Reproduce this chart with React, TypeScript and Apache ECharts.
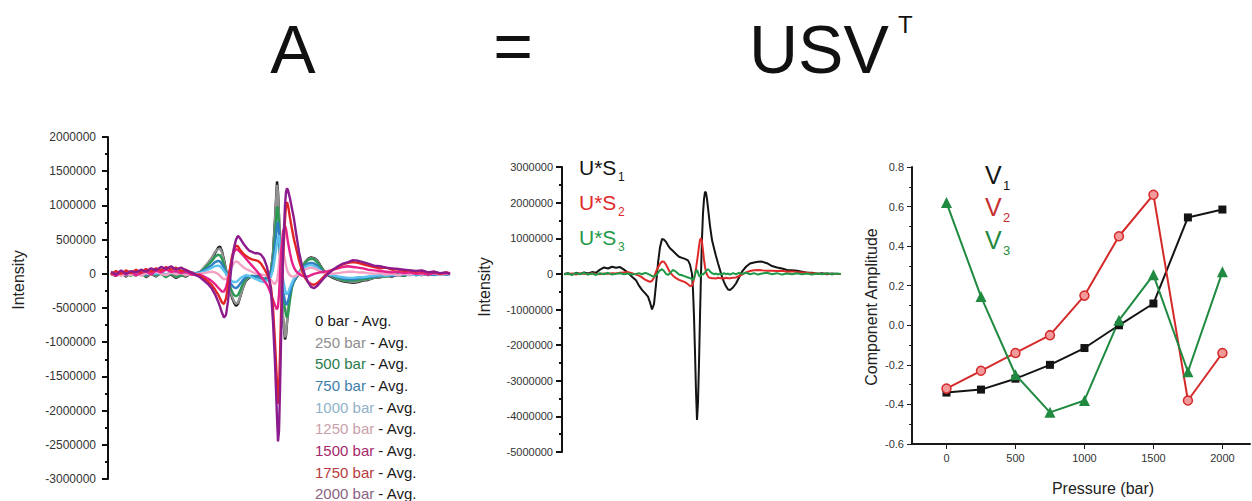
import React, { useEffect, useRef } from "react";
import * as echarts from "echarts";

// ---------- Left panel: spectra A (values in thousands) ----------
const X_LEFT = [
  3, 8, 13, 18, 23, 28, 33, 38, 43, 48, 53, 58, 63, 68, 73, 78, 83, 88,
  92, 96, 100, 104, 107, 110, 112, 114, 116, 118, 120, 122, 124, 126, 128, 130, 132, 135, 138, 141, 144, 147, 150, 153, 156, 159,
  161, 163, 165, 167, 169, 170, 171, 172, 173, 175, 177, 178, 179, 180, 182, 184, 186, 188, 191, 194, 197, 200, 203, 206, 209, 212, 216,
  220, 225, 230, 235, 240, 245, 250, 255, 260, 266, 272, 278, 284, 290, 296, 302, 308, 314, 320, 326, 332, 338, 342,
];
const BAR0 = [
  0, -30, 20, -40, 10, -20, 30, -50, 0, -40, 20, -30, -10, -60, -20, -40, 10, -10,
  20, 80, 150, 230, 300, 380, 400, 330, 200, 60, -100, -250, -350, -420, -470, -440, -350, -200, -100, -60, -30, -50, -20, -60, -80, -90,
  -60, 50, 300, 800, 1350, 1200, 850, 350, -100, -650, -960, -900, -720, -520, -260, -150, -110, -60, 0, 80, 170, 220, 240, 230, 200, 130, 40,
  -20, -60, -90, -110, -120, -130, -120, -100, -90, -60, -50, -30, -40, -10, -30, 0, -20, 10, -20, 0, -10, 10, 0,
];
const BAR250 = [
  10, -20, 30, -30, 0, -30, 20, -40, 10, -30, 10, -40, 0, -50, -10, -30, 20, 0,
  30, 90, 160, 240, 320, 360, 370, 310, 180, 50, -90, -230, -330, -400, -440, -420, -340, -190, -90, -50, -40, -30, -50, -70, -80, -80,
  -50, 40, 280, 760, 1300, 1180, 820, 330, -90, -620, -930, -880, -700, -500, -250, -140, -100, -50, 10, 90, 170, 210, 230, 220, 190, 120, 30,
  -10, -50, -80, -100, -110, -120, -110, -90, -80, -60, -40, -40, -20, -30, -10, -20, 0, -20, 10, -10, 0, -10, 0,
];
const BAR500 = [
  -10, 20, -20, 10, -30, 20, -10, -30, 20, -20, 0, -50, 10, -40, -30, -20, 0, 10,
  20, 70, 130, 190, 250, 280, 270, 220, 130, 30, -80, -180, -260, -310, -330, -310, -250, -140, -70, -40, -30, -50, -40, -60, -70, -60,
  -40, 30, 220, 580, 980, 960, 700, 300, -50, -300, -520, -600, -640, -600, -380, -200, -110, -40, 20, 90, 160, 200, 220, 210, 170, 110, 30,
  0, -40, -70, -90, -100, -100, -90, -80, -70, -50, -30, -40, -20, -10, -30, 0, -10, -20, 0, -10, 10, -10, 0,
];
const BAR750 = [
  20, -10, 30, -20, 20, -10, 40, -20, 30, -10, 20, -20, 30, -10, 10, 0, 20, 10,
  20, 50, 90, 130, 170, 190, 180, 140, 80, 20, -50, -120, -170, -200, -210, -190, -150, -90, -50, -30, -40, -30, -50, -60, -80, -60,
  -70, 0, 150, 400, 700, 760, 620, 300, 0, -250, -400, -450, -440, -400, -280, -170, -100, -50, 10, 70, 120, 150, 160, 150, 120, 70, 20,
  0, -30, -50, -70, -80, -80, -70, -60, -50, -40, -30, -20, -30, -10, -20, 0, -20, -10, 0, -20, 0, -10, 0,
];
const BAR1000 = [
  0, 20, -10, 30, 0, 20, -20, 10, 30, 0, 20, -10, 10, 20, 0, 30, 10, 0,
  10, 30, 60, 90, 110, 120, 110, 80, 40, 0, -40, -80, -110, -120, -120, -100, -70, -40, -20, -30, -50, -70, -90, -110, -120, -100,
  -90, -40, 60, 250, 450, 540, 560, 420, 200, -80, -230, -290, -300, -280, -200, -130, -70, -30, 20, 60, 100, 120, 130, 110, 90, 50, 10,
  -10, -20, -40, -50, -60, -60, -50, -50, -40, -30, -20, -30, -10, -20, 0, -20, -10, 0, -10, 0, -20, 0, -10,
];
const BAR1250 = [
  -20, 10, -30, 0, -20, 20, -30, 10, -10, 30, 0, -20, 20, -10, 10, -20, 0, -10,
  0, 10, 20, 30, 20, 0, -30, -60, -80, -70, -30, 40, 110, 160, 180, 170, 140, 100, 70, 50, 30, 10, 0, -10, -20, -30,
  -50, -90, -130, -150, -100, 0, 150, 300, 380, 330, 200, 120, 60, 20, -20, -40, -40, -30, 0, 30, 60, 80, 90, 80, 60, 40, 10,
  0, 0, 10, 20, 30, 30, 20, 20, 10, 0, 10, -10, 0, -20, 0, -10, 10, -10, 0, 10, -10, 0, 0,
];
const BAR1500 = [
  10, -30, 20, -10, 30, -20, 10, 40, -10, 50, 20, 60, 30, 40, 10, 30, -10, -20,
  -10, -40, -70, -110, -150, -200, -230, -260, -260, -200, -80, 80, 220, 320, 360, 350, 320, 270, 220, 170, 120, 70, 20, -40, -100, -160,
  -220, -300, -380, -460, -520, -480, -300, 0, 300, 620, 700, 660, 560, 460, 300, 170, 90, 40, 0, -30, -40, -40, -20, 0, 10, 20, 30,
  40, 60, 80, 100, 110, 100, 90, 80, 60, 50, 40, 30, 20, 30, 10, 20, 0, 10, -10, 10, 0, 10, 0,
];
const BAR1750 = [
  -10, 40, 0, 50, 10, 60, 20, 70, 30, 80, 50, 100, 60, 90, 40, 60, 20, -10,
  -30, -70, -110, -170, -230, -300, -360, -420, -440, -360, -180, 60, 250, 360, 410, 400, 350, 300, 260, 230, 210, 200, 190, 150, 80, 0,
  -80, -200, -500, -1000, -1600, -1900, -1700, -1200, -600, 200, 800, 1000, 1050, 1000, 820, 650, 500, 380, 200, 50, -60, -120, -150, -160, -140, -100, -40,
  10, 60, 100, 140, 160, 170, 160, 140, 120, 100, 80, 90, 60, 70, 40, 50, 30, 40, 20, 30, 0, 20, 10,
];
const BAR2000 = [
  30, -10, 50, 0, 40, 20, 60, 30, 80, 50, 100, 70, 110, 60, 90, 50, 20, -20,
  -50, -100, -150, -220, -300, -400, -480, -570, -640, -600, -400, -100, 180, 380, 500, 555, 520, 450, 390, 340, 320, 300, 300, 280, 220, 100,
  -50, -250, -700, -1300, -2100, -2450, -2300, -1700, -1000, 300, 1000, 1200, 1250, 1220, 1100, 950, 800, 600, 320, 120, -20, -120, -190, -210, -180, -130, -60,
  0, 60, 110, 150, 170, 200, 190, 170, 150, 120, 110, 90, 80, 70, 60, 50, 40, 50, 20, 30, 10, 20, 0,
];
const LEFT_SERIES = [
  { name: "0 bar", data: BAR0, line: "#151515", text: "#1a1a1a" },
  { name: "250 bar", data: BAR250, line: "#929292", text: "#8e8e8e" },
  { name: "500 bar", data: BAR500, line: "#2a9a52", text: "#2a7d4c" },
  { name: "750 bar", data: BAR750, line: "#2f80c2", text: "#3d7eaa" },
  { name: "1000 bar", data: BAR1000, line: "#5ec2ee", text: "#8fb2c8" },
  { name: "1250 bar", data: BAR1250, line: "#f2a2c4", text: "#c9a0aa" },
  { name: "1500 bar", data: BAR1500, line: "#e6218a", text: "#a4286c" },
  { name: "1750 bar", data: BAR1750, line: "#e22424", text: "#b83b3d" },
  { name: "2000 bar", data: BAR2000, line: "#8c1c8e", text: "#8a6282" },
];

// ---------- Middle panel: U*S components (values in thousands) ----------
const X_MID = [
  2, 6, 10, 14, 18, 22, 26, 30, 34, 38, 42, 46, 50, 54, 58, 62, 66, 70, 74,
  77, 80, 83, 86, 88, 90, 92, 94, 96, 98, 100, 102, 104, 106, 108,
  111, 114, 117, 120, 123, 126, 128, 130,
  131, 132, 133, 134, 135, 136, 137, 138, 139, 140, 141, 142, 143, 144, 145, 146, 147, 148,
  150, 152, 154, 156, 158, 160, 162, 164, 166, 168,
  171, 174, 177, 180,
  184, 188, 192, 196, 200,
  205, 210, 215, 220, 225, 230, 235, 240, 245, 250, 255, 260, 265, 270, 275,
  279,
];
const US1 = [
  0, 20, -20, 30, 0, 40, 10, 50, 30, 120, 180, 150, 200, 170, 190, 120, 30, -80, -180,
  -330, -450, -540, -640, -800, -1000, -850, -300, 300, 750, 980, 960, 900, 800, 720,
  640, 560, 480, 450, 420, 380, 260, 0,
  -450, -1200, -2200, -3300, -4100, -3600, -2500, -1200, 0, 1000, 1700, 2100, 2300, 2280, 2100, 1850, 1600, 1350,
  950, 720, 500, 300, 110, -80, -230, -350, -440, -450,
  -380, -270, -100, 60,
  200, 290, 320, 340, 345,
  300, 220, 180, 150, 110, 100, 90, 60, 30, 30, 0, 20, -10, 10, 0,
  0,
];
const US2 = [
  0, -10, 10, -20, 10, 0, -10, 20, 0, -10, 10, 0, 20, 10, 30, 40, 50, 20, -20,
  -50, -100, -160, -200, -220, -200, -100, 60, 180, 280, 350, 340, 260, 150, 40,
  -50, -120, -170, -200, -230, -290, -340, -330,
  -250, -150, 0, 150, 350, 550, 780, 950, 1000, 900, 650, 400, 200, 60, -20, -70, -100, -110,
  -120, -120, -130, -110, -120, -120, -130, -110, -120, -120,
  -110, -100, -60, -20,
  40, 80, 100, 110, 100,
  90, 90, 80, 90, 60, 70, 50, 40, 30, 20, 10, 0, 10, -10, 0,
  0,
];
const US3 = [
  -20, 10, -30, 20, -10, 30, -20, 10, -30, 20, -10, 30, -20, 0, 20, -10, 10, -20, 0,
  20, -10, 30, 0, -30, -60, -80, -40, 30, 100, 130, 80, 0, -30, 20,
  110, 60, -20, -40, -70, -100, -120, -150,
  -170, -120, -20, 80, 110, 40, -50, -80, -40, 0, -20, 10, 40, 80, 110, 130, 110, 70,
  20, -10, 10, -20, 10, -20, 20, -10, 10, -20,
  20, -10, 30, 0,
  30, -10, 20, -20, 10,
  30, -10, 20, -20, 10, -10, 20, -10, 10, -20, 10, -10, 20, -10, 10,
  0,
];
const MID_SERIES = [
  { sub: "1", data: US1, color: "#141414" },
  { sub: "2", data: US2, color: "#e02a2a" },
  { sub: "3", data: US3, color: "#1f9a48" },
];

// ---------- Right panel: V components ----------
const PRESSURES = [0, 250, 500, 750, 1000, 1250, 1500, 1750, 2000];
const V1 = [-0.34, -0.325, -0.27, -0.2, -0.115, 0.0, 0.11, 0.545, 0.585];
const V2 = [-0.32, -0.23, -0.14, -0.05, 0.15, 0.45, 0.66, -0.38, -0.14];
const V3 = [0.62, 0.145, -0.25, -0.44, -0.38, 0.025, 0.255, -0.235, 0.27];
const X_MAJOR = [0, 500, 1000, 1500, 2000];

const FONT = '"Liberation Sans", Arial, Helvetica, sans-serif';

export default function App() {
  const ref = useRef<HTMLDivElement>(null);
  useEffect(() => {
    if (!ref.current) return;
    const chart = echarts.init(ref.current, undefined, { renderer: "svg" });

    const labelStyle = (size: number, margin: number) => ({
      color: "#333",
      fontSize: size,
      fontFamily: FONT,
      margin,
      formatter: (v: number) => String(v),
    });

    const leftSeries = LEFT_SERIES.map((s) => ({
      type: "line", xAxisIndex: 0, yAxisIndex: 0, showSymbol: false, symbol: "none",
      lineStyle: { color: s.line, width: 2.4 },
      data: X_LEFT.map((x, i) => [x, s.data[i] * 1000]),
    }));
    const midSeries = MID_SERIES.map((s) => ({
      type: "line", xAxisIndex: 1, yAxisIndex: 1, showSymbol: false, symbol: "none",
      lineStyle: { color: s.color, width: 2 },
      data: X_MID.map((x, i) => [x, s.data[i] * 1000]),
    }));
    const vSeries = [
      { data: V1, color: "#141414", symbol: "rect", symbolSize: 8, itemStyle: { color: "#141414" } },
      {
        data: V2, color: "#d42a2a", symbol: "circle", symbolSize: 9,
        itemStyle: { color: "#f29a9a", borderColor: "#d42a2a", borderWidth: 1.5 },
      },
      { data: V3, color: "#1f8a40", symbol: "triangle", symbolSize: 11, itemStyle: { color: "#1f8a40" } },
    ].map((s) => ({
      type: "line", xAxisIndex: 2, yAxisIndex: 2,
      symbol: s.symbol, symbolSize: s.symbolSize, showSymbol: true,
      lineStyle: { color: s.color, width: 2 },
      itemStyle: s.itemStyle,
      data: PRESSURES.map((p, i) => [p, s.data[i]]),
    }));

    const text = (t: string, x: number, y: number, size: number, fill: string, align = "left", rotation = 0) => ({
      type: "text", x, y, rotation, z: 10,
      style: { text: t, fontSize: size, fontFamily: FONT, fill, align, verticalAlign: "middle" },
    });

    const graphics: any[] = [
      text("A", 293, 49, 68, "#111111", "center"),
      text("=", 513, 46, 68, "#111111", "center"),
      text("USV", 749, 49, 68, "#111111", "left"),
      text("T", 898, 24, 24, "#111111", "left"),
      text("Intensity", 18, 280, 16, "#222222", "center", Math.PI / 2),
      text("Intensity", 484, 287, 16, "#222222", "center", Math.PI / 2),
      text("Component Amplitude", 871, 307, 16, "#222222", "center", Math.PI / 2),
      text("Pressure (bar)", 1103, 488, 16, "#222222", "center"),
    ];
    const legendY = [320, 342, 363, 385, 407, 428, 450, 472, 493];
    LEFT_SERIES.forEach((s, i) => {
      graphics.push({
        type: "text", x: 315, y: legendY[i], z: 10,
        style: {
          text: `{a|${s.name}}{b| - Avg.}`,
          verticalAlign: "middle",
          rich: {
            a: { fill: s.text, fontSize: 15, fontFamily: FONT },
            b: { fill: "#1a1a1a", fontSize: 15, fontFamily: FONT },
          },
        },
      });
    });
    const midLegendY = [167, 202, 237];
    MID_SERIES.forEach((s, i) => {
      graphics.push(text("U*S", 579, midLegendY[i], 21, s.color, "left"));
      graphics.push(text(s.sub, 618, midLegendY[i] + 10, 12, s.color, "left"));
    });
    const vColors = ["#141414", "#c43030", "#1f8a40"];
    const vLegendY = [175, 207, 240];
    vColors.forEach((c, i) => {
      graphics.push(text("V", 985, vLegendY[i], 25, c, "left"));
      graphics.push(text(String(i + 1), 1003, vLegendY[i] + 10, 13, c, "left"));
    });

    const yAx = (grid: number, min: number, max: number, interval: number, size: number, margin: number) => ({
      type: "value",
      gridIndex: grid,
      min, max, interval,
      splitLine: { show: false },
      axisLine: { show: true, lineStyle: { color: "#111", width: 2 } },
      axisTick: { show: true, length: 6, lineStyle: { color: "#111", width: 2 } },
      minorTick: { show: true, splitNumber: 2, length: 3, lineStyle: { color: "#111", width: 2 } },
      axisLabel: labelStyle(size, margin),
    });

    chart.setOption({
      animation: false,
      backgroundColor: "#ffffff",
      grid: [
        { left: 108, top: 137, width: 344, height: 342 },
        { left: 562, top: 167, width: 280, height: 285 },
        { left: 912, top: 167, width: 338, height: 277 },
      ],
      xAxis: [
        { type: "value", gridIndex: 0, min: 0, max: 344, show: false },
        { type: "value", gridIndex: 1, min: 0, max: 280, show: false },
        {
          type: "value", gridIndex: 2, min: -250, max: 2200,
          splitLine: { show: false },
          axisLine: { show: true, onZeroAxisIndex: 3, lineStyle: { color: "#1a1a1a", width: 2 } },
          axisTick: { show: true, customValues: X_MAJOR },
          axisLabel: { ...labelStyle(11, 8), customValues: X_MAJOR },
        },
        // helper axis: its zero sits at the left edge of grid 2, so the y axis line lands there
        { type: "value", gridIndex: 2, min: 0, max: 1, show: false },
      ],
      yAxis: [
        yAx(0, -3000000, 2000000, 500000, 12, 12),
        yAx(1, -5000000, 3000000, 1000000, 11, 9),
        {
          type: "value", gridIndex: 2, min: -0.6, max: 0.8, interval: 0.2,
          splitLine: { show: false },
          axisLine: { show: true, onZeroAxisIndex: 3, lineStyle: { color: "#1a1a1a", width: 2 } },
          axisTick: { show: true },
          minorTick: { show: true, splitNumber: 2, length: 3 },
          axisLabel: { ...labelStyle(11, 8), formatter: (v: number) => v.toFixed(1) },
        },
        // helper axis: its zero sits at the bottom edge of grid 2, so the x axis line lands there
        { type: "value", gridIndex: 2, min: 0, max: 1, show: false },
      ],
      series: [...leftSeries, ...midSeries, ...vSeries],
      graphic: graphics,
    });
    return () => chart.dispose();
  }, []);

  return (
    <div ref={ref} style={{ position: "fixed", left: 0, top: 0, width: 1252, height: 501, background: "#fff" }} />
  );
}
